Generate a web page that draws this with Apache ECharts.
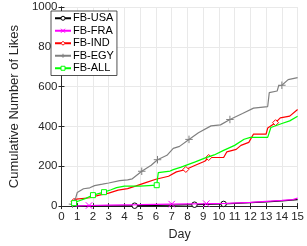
<!DOCTYPE html>
<html><head><meta charset="utf-8">
<script src="https://cdn.jsdelivr.net/npm/echarts@6/dist/echarts.min.js"></script>
<style>html,body{margin:0;padding:0;background:#fff}#c{width:307px;height:246px}</style>
</head><body><div id="c"></div>
<script>
// ---- data (day, cumulative likes) ----
const seriesNames = ['FB-USA', 'FB-FRA', 'FB-IND', 'FB-EGY', 'FB-ALL'];
const usaData = [[0.9,0],[2,1],[4.65,2],[7,5],[8.45,7],[10.3,11],[12,17],[13,21],[14,26],[15,33]];
const usaMarkers = [4.65, 8.45, 10.3];
const fraData = [[0.9,0],[1.75,3],[3,5],[5,7],[7.0,10],[9.2,12],[10.5,14],[12,19],[13,24],[14,29],[14.7,33],[15,40]];
const fraMarkers = [1.75, 7.0, 9.2];
const indData = [[0.6,5],[0.8,24],[0.95,35],[1.8,42],[2.4,55],[3.0,65],[3.6,80],[4.2,88],[4.7,100],[5.35,118],[6.0,135],[6.8,150],[7.3,172],[7.9,184],[8.5,205],[9.1,225],[9.35,244],[10.3,244],[10.5,272],[11.1,285],[11.4,305],[11.9,320],[12.2,362],[13.0,362],[13.1,392],[13.6,419],[13.9,443],[14.5,452],[15,485]];
const indMarkers = [0.8, 7.9, 9.35, 13.6];
const egyData = [[0.6,5],[0.7,10],[0.9,40],[1.0,68],[1.4,87],[1.8,92],[2.1,103],[2.6,110],[3.0,116],[3.7,128],[4.2,132],[4.5,137],[5.1,175],[5.7,205],[6.1,233],[6.7,255],[7.1,290],[7.5,300],[8.1,335],[8.7,368],[9.5,403],[10.1,408],[10.7,435],[11.5,465],[12.2,492],[13.1,500],[13.2,570],[13.7,578],[13.8,605],[14.0,607],[14.4,635],[15,645]];
const egyMarkers = [0.7, 5.1, 6.1, 8.1, 10.7, 14.0];
const allData = [[0.7,5],[0.8,15],[1.0,23],[1.55,39],[1.9,52],[2.0,55],[2.35,63],[2.7,70],[3.15,82],[3.5,93],[4.0,100],[5.0,100],[6.05,105],[6.15,168],[6.9,176],[7.1,183],[7.6,196],[8.5,222],[9.1,241],[9.7,257],[10.3,280],[11.0,305],[11.6,336],[12.0,345],[13.1,345],[13.3,395],[14.0,415],[14.5,428],[15,451]];
const allMarkers = [0.8, 2.0, 2.7, 6.05];
const xTickLabels = [0,1,2,3,4,5,6,7,8,9,10,11,12,13,14,15];
const yTickLabels = [0,200,400,600,800,1000];

const colors = ['#000000', '#ff00ff', '#ff0000', '#808080', '#00ff00'];
const symbols = ['circle', 'path://M0,0L10,10M10,0L0,10', 'diamond', 'path://M5,0L5,10M0,5L10,5', 'rect'];
const symbolSizes = [5.5, 6.5, 6, 7.5, 5];
const dataSets = [usaData, fraData, indData, egyData, allData];
const markerSets = [usaMarkers, fraMarkers, indMarkers, egyMarkers, allMarkers];

const FONT = 'Liberation Sans, Arial, Helvetica, sans-serif';
const AX = '#262626';
const GRID = '#e9e9e9';

const series = seriesNames.map((name, i) => ({
  name: name,
  type: 'line',
  symbol: symbols[i],
  symbolSize: symbolSizes[i],
  showSymbol: true,
  color: colors[i],
  lineStyle: {color: colors[i], width: 1.2},
  itemStyle: {color: '#ffffff', borderColor: colors[i], borderWidth: 1},
  z: 2 + i,
  data: dataSets[i].map(p => markerSets[i].indexOf(p[0]) >= 0 ? {value: p} : {value: p, symbol: 'none'}),
  animation: false
}));

const chart = echarts.init(document.getElementById('c'), null, {renderer: 'canvas'});
chart.setOption({
  animation: false,
  backgroundColor: '#fff',
  textStyle: {fontFamily: FONT},
  grid: {left: 47, right: 8, top: 7, bottom: 33},
  legend: {
    orient: 'vertical', left: 51, top: 11,
    backgroundColor: '#fff', borderColor: AX, borderWidth: 0.8, borderRadius: 0,
    padding: [1, 3, 1, 3], itemGap: 0, itemWidth: 16, itemHeight: 5,
    itemStyle: {color: '#ffffff', borderColor: 'inherit', borderWidth: 1},
    textStyle: {fontSize: 11, lineHeight: 12.5, color: '#000', fontFamily: FONT, padding: [0, 0, 0, -3]},
    data: seriesNames
  },
  xAxis: [{
    type: 'value', min: 0, max: 15, interval: 1, position: 'bottom',
    name: 'Day', nameLocation: 'middle', nameGap: 17,
    nameTextStyle: {fontSize: 12.5, color: AX, fontFamily: FONT},
    axisLine: {show: true, lineStyle: {color: AX, width: 1}},
    axisTick: {show: true, inside: true, length: 3, lineStyle: {color: AX}},
    axisLabel: {fontSize: 11.5, color: AX, margin: 5, fontFamily: FONT,
      formatter: v => xTickLabels.indexOf(v) >= 0 ? String(v) : ''},
    splitLine: {show: true, lineStyle: {color: GRID, width: 1}}
  }, {
    type: 'value', min: 0, max: 15, interval: 1, position: 'top',
    axisLine: {show: true, lineStyle: {color: AX, width: 1}},
    axisTick: {show: true, inside: true, length: 3, lineStyle: {color: AX}},
    axisLabel: {show: false}, splitLine: {show: false}
  }],
  yAxis: [{
    type: 'value', min: 0, max: 1000, interval: 200, position: 'left',
    name: 'Cumulative Number of Likes', nameLocation: 'middle', nameGap: 31,
    nameTextStyle: {fontSize: 13, color: AX, fontFamily: FONT},
    axisLine: {show: true, lineStyle: {color: AX, width: 1}},
    axisTick: {show: true, inside: true, length: 3, lineStyle: {color: AX}},
    axisLabel: {fontSize: 11.5, color: AX, margin: 4, fontFamily: FONT,
      formatter: v => yTickLabels.indexOf(v) >= 0 ? String(v) : ''},
    splitLine: {show: true, lineStyle: {color: GRID, width: 1}}
  }, {
    type: 'value', min: 0, max: 1000, interval: 200, position: 'right',
    axisLine: {show: true, lineStyle: {color: AX, width: 1}},
    axisTick: {show: true, inside: true, length: 3, lineStyle: {color: AX}},
    axisLabel: {show: false}, splitLine: {show: false}
  }],
  series: series
});
</script>
</body></html>
